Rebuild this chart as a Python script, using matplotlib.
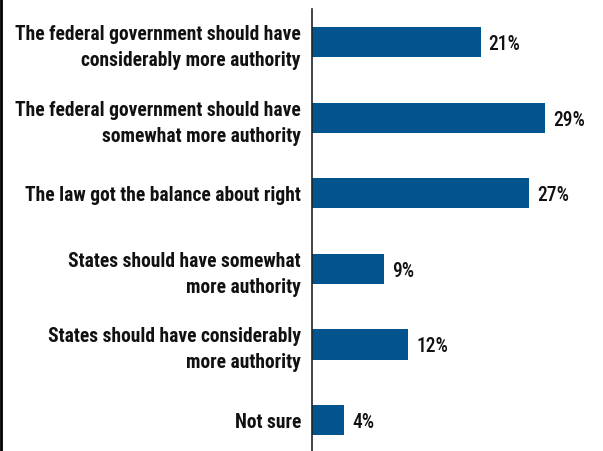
import matplotlib
matplotlib.use("Agg")
import matplotlib.pyplot as plt
from matplotlib.lines import Line2D
from matplotlib import font_manager

categories = [
    "The federal government should have\nconsiderably more authority",
    "The federal government should have\nsomewhat more authority",
    "The law got the balance about right",
    "States should have somewhat\nmore authority",
    "States should have considerably\nmore authority",
    "Not sure",
]
values = [21, 29, 27, 9, 12, 4]
value_labels = ["21%", "29%", "27%", "9%", "12%", "4%"]

bold_fams = {f.name for f in font_manager.fontManager.ttflist
             if (f.weight if isinstance(f.weight, int) else 700 if f.weight == "bold" else 400) >= 600}
fam = next((n for n in ["Roboto Condensed", "PT Sans Narrow", "Fira Sans Condensed",
                        "Archivo Narrow", "Barlow Semi Condensed", "Asap Condensed"]
            if n in bold_fams), "DejaVu Sans")

W, H = 603, 451
fig = plt.figure(figsize=(W / 100, H / 100), dpi=100)
ax = fig.add_axes([312 / W, 0, (600 - 312) / W, (451 - 9) / H])

color = "#02548f"
pos = list(range(len(values)))
ax.barh(pos, values, height=0.4, color=color)
ax.set_ylim(5.41, -0.44)
ax.set_xlim(0, (600 - 312) / 8.03)

fs = 13
vals_txt = []
for p, v, lab in zip(pos, values, value_labels):
    vals_txt.append(ax.text(v + 1.0, p + 0.03, lab, va="center", ha="left", fontsize=fs,
                            fontweight=500, family=fam, color="#111111"))

ax.set_yticks(pos)
ax.set_yticklabels(categories, fontsize=fs, fontweight="bold", family=fam,
                   color="#111111", linespacing=1.46)
ax.tick_params(axis="y", length=0, pad=8)
ax.set_xticks([])
for s in ["top", "right", "bottom"]:
    ax.spines[s].set_visible(False)
ax.spines["left"].set_linewidth(1.2)
ax.spines["left"].set_color("#222222")

# scale fonts so the widest label spans ~285 px like the reference
fig.canvas.draw()
r = fig.canvas.get_renderer()
wmax = max(t.get_window_extent(r).width for t in ax.get_yticklabels())
scale = 285 / wmax
for t in ax.get_yticklabels() + vals_txt:
    t.set_fontsize(fs * scale)

fig.add_artist(Line2D([0.0015, 0.0015], [0, 1], transform=fig.transFigure,
                      color="black", lw=2))

fig.savefig("out.png", dpi=100)
